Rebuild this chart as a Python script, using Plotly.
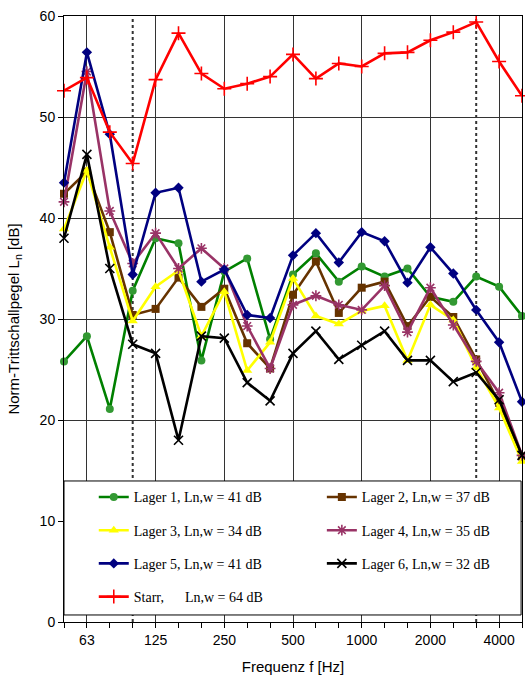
import plotly.graph_objects as go

# third-octave centre frequencies (category positions)
freqs = ["50", "63", "80", "100", "125", "160", "200", "250", "315", "400", "500",
         "630", "800", "1000", "1250", "1600", "2000", "2500", "3150", "4000", "5000"]
octave_labels = ["63", "125", "250", "500", "1000", "2000", "4000"]

lager1 = [25.8, 28.3, 21.1, 32.8, 38.0, 37.5, 25.9, 34.7, 36.0, 28.0, 34.4,
          36.5, 33.7, 35.2, 34.2, 35.0, 32.2, 31.7, 34.2, 33.2, 30.3]
lager2 = [42.4, 44.6, 38.6, 30.4, 31.0, 34.1, 31.2, 33.0, 27.6, 25.1, 32.4,
          35.7, 30.6, 33.1, 33.7, 29.3, 32.2, 30.2, 26.0, 21.7, 16.4]
lager3 = [38.9, 44.7, 37.1, 29.8, 33.2, 34.8, 28.3, 32.7, 24.9, 27.7, 34.0,
          30.3, 29.5, 30.8, 31.3, 25.9, 31.4, 29.9, 25.2, 21.2, 15.9]
lager4 = [41.6, 54.5, 40.7, 35.5, 38.5, 35.0, 37.0, 35.0, 29.3, 25.1, 31.4,
          32.3, 31.4, 30.9, 33.3, 28.7, 33.1, 29.4, 25.8, 22.7, 16.5]
lager5 = [43.5, 56.4, 48.3, 34.4, 42.5, 43.0, 33.7, 34.9, 30.4, 30.1, 36.3,
          38.5, 35.6, 38.6, 37.7, 33.6, 37.1, 34.5, 30.9, 27.7, 21.8]
lager6 = [38.0, 46.3, 35.0, 27.5, 26.6, 18.0, 28.3, 28.1, 23.7, 21.9, 26.6,
          28.8, 26.0, 27.4, 28.8, 25.9, 25.9, 23.8, 24.7, 22.0, 16.5]
starr = [52.6, 53.9, 48.5, 45.4, 53.7, 58.3, 54.3, 52.8, 53.3, 54.0, 56.2,
         53.8, 55.3, 55.0, 56.3, 56.4, 57.6, 58.4, 59.4, 55.5, 52.1]

names = ["Lager 1, Ln,w = 41 dB", "Lager 2, Ln,w = 37 dB", "Lager 3, Ln,w = 34 dB",
         "Lager 4, Ln,w = 35 dB", "Lager 5, Ln,w = 41 dB", "Lager 6, Ln,w = 32 dB",
         "Starr,\u00a0\u00a0\u00a0\u00a0\u00a0 Ln,w = 64 dB"]

x = list(range(len(freqs)))
octave_pos = [freqs.index(f) for f in octave_labels]
limit_pos = [freqs.index("100"), freqs.index("3150")]

series = [
    (lager1, "#008000", "#339933", "circle", 8, "legend"),
    (lager2, "#663300", "#663300", "square", 8, "legend2"),
    (lager3, "#FFFF00", "#FFFF00", "triangle-up", 9, "legend"),
    (lager4, "#993366", "#993366", "asterisk-open", 9, "legend2"),
    (lager5, "#000080", "#000080", "diamond", 8, "legend"),
    (lager6, "#000000", "#000000", "x-thin-open", 9, "legend2"),
    (starr, "#FF0000", "#FF0000", "cross-thin-open", 10, "legend"),
]

fig = go.Figure()
for i, (vals, lc, mc, sym, ms, lg) in enumerate(series):
    open_sym = sym.endswith("open")
    fig.add_trace(go.Scatter(
        x=x, y=vals, mode="lines+markers", name=names[i],
        line=dict(color=lc, width=2.6),
        marker=dict(symbol=sym, size=ms, color=mc,
                    line=dict(color=mc, width=1.6 if open_sym else 0)),
        cliponaxis=False, legend=lg, legendgroup=f"g{i}",
    ))

shapes = []
for p in limit_pos:
    shapes.append(dict(type="line", xref="x", yref="paper", x0=p, x1=p, y0=0, y1=1,
                       line=dict(color="#333333", width=2, dash="dot"), layer="below"))
shapes.append(dict(type="rect", xref="paper", yref="paper", x0=0.0, x1=0.998,
                   y0=0.0116, y1=0.2327, fillcolor="white",
                   line=dict(color="black", width=1), layer="above"))

legend_font = dict(family="Liberation Serif, Times New Roman, serif", size=14, color="black")

fig.update_layout(
    width=525, height=677,
    margin=dict(l=64, r=3, t=16, b=55, autoexpand=False),
    paper_bgcolor="white", plot_bgcolor="white",
    font=dict(family="Liberation Sans, Arial, sans-serif", size=14, color="black"),
    shapes=shapes,
    legend=dict(x=0.065, y=0.232, xanchor="left", yanchor="top",
                bgcolor="rgba(0,0,0,0)", borderwidth=0, font=legend_font,
                traceorder="grouped", tracegroupgap=12, itemwidth=30),
    legend2=dict(x=0.563, y=0.232, xanchor="left", yanchor="top",
                 bgcolor="rgba(0,0,0,0)", borderwidth=0, font=legend_font,
                 traceorder="grouped", tracegroupgap=12, itemwidth=30),
    xaxis=dict(
        range=[0, len(freqs) - 1],
        tickmode="array", tickvals=octave_pos, ticktext=octave_labels,
        ticks="outside", ticklen=5, tickcolor="black",
        showgrid=True, gridcolor="#333333", gridwidth=1,
        showline=True, linecolor="black", linewidth=1, mirror=True,
        zeroline=False, automargin=False, ticklabeloverflow="allow",
        minor=dict(tickvals=x, ticks="outside", ticklen=5, tickcolor="black", showgrid=False),
        title=dict(text="Frequenz f [Hz]", font=dict(size=15), standoff=14),
        tickfont=dict(size=14),
    ),
    yaxis=dict(
        range=[0, 60], dtick=10,
        ticks="outside", ticklen=5, tickcolor="black",
        showgrid=True, gridcolor="#333333", gridwidth=1,
        showline=True, linecolor="black", linewidth=1, mirror=True,
        zeroline=False, automargin=False, ticklabeloverflow="allow",
        title=dict(text="Norm-Trittschallpegel L<sub>n</sub> [dB]", font=dict(size=15), standoff=16),
        tickfont=dict(size=14),
    ),
)

fig.write_html("out.html", config={"displayModeBar": False},
               post_script="document.body.style.margin='0';document.body.style.overflow='hidden';")
